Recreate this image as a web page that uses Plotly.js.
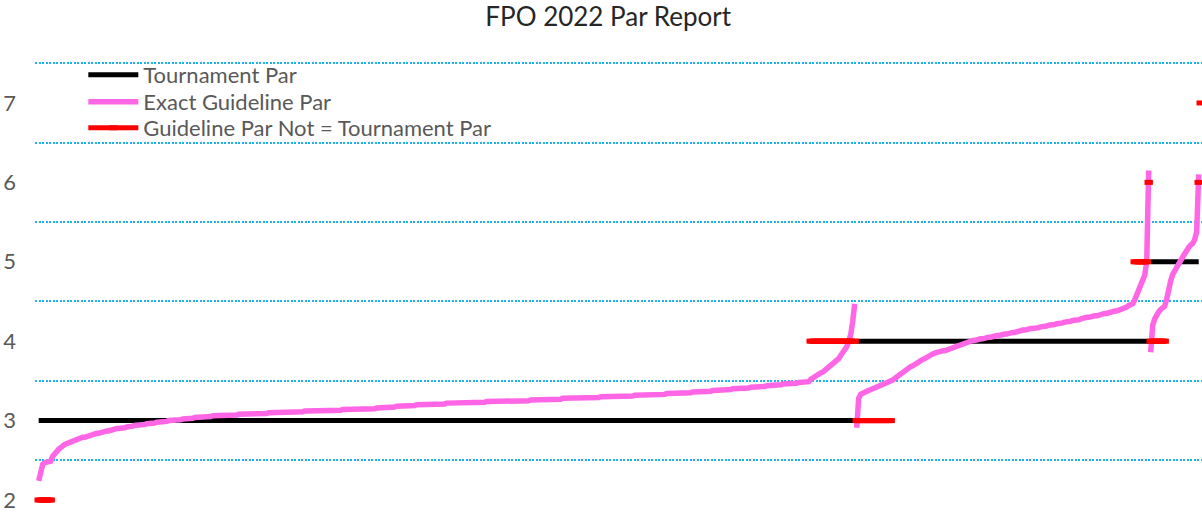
<!DOCTYPE html>
<html><head><meta charset="utf-8">
<script src="https://cdn.plot.ly/plotly-3.0.1.min.js"></script>
<style>html,body{margin:0;padding:0;background:#fff;}#chart{width:1202px;height:515px;}</style>
</head><body><div id="chart"></div>
<script>
const chartTitle = 'FPO 2022 Par Report';
const seriesNames = ['Tournament Par', 'Exact Guideline Par', 'Guideline Par Not = Tournament Par'];
const yTicks = [2, 3, 4, 5, 6, 7];
// tournament par of each group of holes (holes sorted by tournament par, then by exact guideline par)
const tournamentPars = [3, 4, 5, 6];
// exact guideline par of each hole, per tournament-par group
const guidelinePar3 = [
2.24,2.40,2.45,2.47,2.48,2.49,2.49,2.55,
2.59,2.62,2.64,2.66,2.69,
2.70,2.71,2.72,2.73,2.74,2.75,2.77,2.78,
2.78,2.79,2.79,2.80,2.81,2.81,2.82,2.83,2.84,
2.84,2.85,2.85,2.86,2.87,2.87,2.88,2.89,
2.89,2.90,2.90,2.90,2.91,2.91,2.92,2.92,2.93,
2.93,2.94,2.94,2.94,2.95,2.95,2.95,2.96,2.96,2.96,2.97,2.97,2.98,2.98,2.98,2.99,
2.99,2.99,3.00,3.00,3.00,3.00,3.01,3.01,3.01,
3.02,3.02,3.02,3.03,3.03,3.03,3.04,3.04,
3.04,3.04,3.05,3.05,3.05,3.05,3.05,3.06,3.06,3.06,3.06,3.06,3.06,3.07,3.07,3.07,3.07,
3.07,3.07,3.07,3.08,3.08,3.08,3.08,3.08,3.08,3.08,3.09,3.09,3.09,3.09,3.09,3.09,
3.09,3.09,3.10,3.10,3.10,3.10,3.10,3.10,3.10,3.10,3.11,3.11,3.11,3.11,3.11,3.11,3.11,
3.11,3.11,3.11,3.12,3.12,3.12,3.12,3.12,3.12,3.12,3.12,3.12,
3.12,3.12,3.13,3.13,3.13,3.13,3.13,3.13,3.13,3.13,3.14,3.14,3.14,3.14,3.14,3.14,3.14,3.14,3.14,3.15,3.15,3.15,3.15,3.15,3.15,
3.15,3.15,3.16,3.16,3.16,3.16,3.16,3.17,3.17,3.17,3.17,3.17,3.18,3.18,3.18,3.18,3.18,3.19,3.19,3.19,3.19,3.19,3.20,3.20,3.20,
3.20,3.20,3.20,3.20,3.20,3.21,3.21,3.21,3.21,3.21,3.21,3.21,3.22,3.22,3.22,3.22,3.22,3.22,3.22,3.22,3.23,3.23,3.23,3.23,3.23,
3.23,3.23,3.23,3.23,3.23,3.23,3.23,3.24,3.24,3.24,3.24,3.24,3.24,3.24,3.24,3.24,3.24,3.24,3.25,3.25,3.25,3.25,3.25,3.25,3.25,
3.25,3.25,3.25,3.25,3.26,3.26,3.26,3.26,3.26,3.26,3.26,3.26,3.27,3.27,3.27,3.27,3.27,3.27,3.27,3.27,3.28,3.28,3.28,3.28,3.28,
3.28,3.28,3.28,3.28,3.28,3.29,3.29,3.29,3.29,3.29,3.29,3.29,3.29,3.29,3.30,3.30,3.30,3.30,3.30,3.30,
3.30,3.30,3.30,3.31,3.31,3.31,3.31,3.31,3.31,3.31,3.31,3.32,3.32,3.32,3.32,3.32,3.32,3.32,3.32,3.33,3.33,3.33,3.33,3.33,3.33,3.33,3.33,3.34,3.34,3.34,3.34,3.34,3.34,
3.34,3.34,3.35,3.35,3.35,3.35,3.35,3.36,3.36,3.36,3.36,3.36,3.37,3.37,3.37,3.37,3.37,3.38,3.38,3.38,3.38,3.38,3.39,3.39,3.39,3.39,3.39,3.40,3.40,3.40,3.40,3.41,3.41,
3.41,3.41,3.41,3.42,3.42,3.42,3.42,3.43,3.43,3.43,3.43,3.44,3.44,3.44,3.44,3.45,3.45,3.45,3.45,3.46,3.46,3.46,3.46,3.47,3.47,
3.47,3.47,3.48,3.48,3.48,3.49,3.49,3.49,
3.52,3.54,3.55,3.57,3.58,3.60,3.61,3.63,3.64,
3.66,3.68,3.71,3.73,3.76,3.78,
3.82,3.85,3.89,3.93,
4.00,4.08,4.25,4.47
];
const guidelinePar4 = [
2.91,3.28,3.33,
3.35,3.36,3.37,3.38,3.39,3.40,3.42,3.43,
3.44,3.44,3.45,3.46,3.47,3.48,3.49,
3.51,3.53,3.55,3.57,3.60,3.62,
3.63,3.65,3.66,3.68,3.69,3.71,3.72,
3.74,3.75,3.77,3.78,3.80,3.81,3.83,3.84,
3.85,3.86,3.86,3.87,3.88,3.88,3.89,3.90,3.91,
3.92,3.93,3.94,3.95,3.96,3.97,3.97,3.98,3.99,4.00,4.01,
4.01,4.02,4.02,4.03,4.03,4.04,4.04,4.05,4.05,4.06,4.06,4.07,4.07,4.08,
4.08,4.09,4.09,4.10,4.10,4.11,4.11,4.12,4.12,4.13,4.14,
4.14,4.15,4.15,4.16,4.16,4.16,4.17,4.17,4.18,4.18,4.19,4.19,4.20,4.20,
4.21,4.21,4.22,4.22,4.23,4.23,4.24,4.24,4.25,4.25,4.26,4.26,4.27,4.27,4.28,4.29,
4.29,4.30,4.30,4.31,4.31,4.32,4.32,4.33,4.33,4.34,4.35,4.35,4.36,4.37,
4.37,4.38,4.38,4.39,4.39,
4.41,4.42,4.43,4.45,4.46,4.47,
4.52,4.58,4.64,4.70,4.76,4.83,5.00,6.15
];
const guidelinePar5 = [
3.86,4.20,4.28,4.34,4.37,4.40,4.42,4.44,4.53,4.68,4.76,4.84,4.89,4.93,4.97,
5.02,5.06,5.10,5.15,5.18,5.21,5.23,5.28,5.38,6.10
];
const guidelinePar6 = [6.55];

const groups = [guidelinePar3, guidelinePar4, guidelinePar5, guidelinePar6];
const blackTraces = [], pinkTraces = [], redTraces = [];
let start = 0;
groups.forEach((vals, g) => {
  const par = tournamentPars[g];
  const xs = vals.map((_, k) => start + k);
  blackTraces.push({type: 'scatter', mode: 'lines', x: xs, y: xs.map(() => par),
    line: {color: '#000000', width: 5}, name: seriesNames[0], legendgroup: 'tp', legend: 'legend',
    showlegend: g === 0, hoverinfo: 'skip'});
  pinkTraces.push({type: 'scatter', mode: 'lines', x: xs, y: vals,
    line: {color: '#FF66E6', width: 5.5}, name: seriesNames[1], legendgroup: 'eg', legend: 'legend2',
    showlegend: g === 0, hoverinfo: 'skip'});
  let run = null;
  vals.forEach((v, k) => {
    const r = Math.round(v);
    if (r !== par) {
      if (run && run.val === r && run.last === k - 1) { run.x.push(xs[k]); run.y.push(r); run.last = k; }
      else { run = {val: r, x: [xs[k]], y: [r], last: k}; redTraces.push(run); }
    } else { run = null; }
  });
  start += vals.length;
});
const totalHoles = start;
const redPlot = redTraces.map((r, n) => ({type: 'scatter', mode: 'lines+markers', x: r.x, y: r.y,
  line: {color: '#FF0000', width: 5},
  marker: {symbol: 'line-ew', size: 6, color: '#FF0000', line: {color: '#FF0000', width: 5}},
  cliponaxis: false, name: seriesNames[2], legendgroup: 'ne', legend: 'legend3',
  showlegend: n === 0, hoverinfo: 'skip'}));

const legendFont = {family: 'Lato', size: 22, color: '#595959'};
const legendBase = {x: 0.0414, xanchor: 'left', yanchor: 'middle', bgcolor: 'rgba(0,0,0,0)',
  font: legendFont, itemwidth: 50, tracegroupgap: 0};
const data = [...blackTraces, ...pinkTraces, ...redPlot];
const layout = {
  width: 1202, height: 515,
  margin: {l: 35, r: 0, t: 45, b: 0},
  paper_bgcolor: '#ffffff', plot_bgcolor: '#ffffff',
  title: {text: chartTitle, font: {family: 'Lato', size: 26, color: '#262626'},
    x: 0.506, xref: 'container', xanchor: 'center', y: 1 - 17 / 515, yref: 'container', yanchor: 'middle'},
  xaxis: {range: [-1.85, totalHoles - 0.35], visible: false, showgrid: false, zeroline: false, fixedrange: true},
  yaxis: {range: [1.811, 7.730], tickmode: 'array', tickvals: yTicks, showgrid: false, zeroline: false,
    showline: false, ticks: '', ticklabelstandoff: 18,
    tickfont: {family: 'Lato', size: 22, color: '#595959'},
    minor: {tickmode: 'linear', tick0: 0.5, dtick: 1, showgrid: true, gridcolor: '#1FB2EE', gridwidth: 2,
      griddash: '2px,1.5px', ticks: ''}},
  showlegend: true,
  legend: Object.assign({}, legendBase, {y: 1 - (75 - 45) / 470}),
  legend2: Object.assign({}, legendBase, {y: 1 - (102 - 45) / 470}),
  legend3: Object.assign({}, legendBase, {y: 1 - (128 - 45) / 470}),
  hovermode: false
};
Plotly.newPlot('chart', data, layout, {staticPlot: true, displayModeBar: false});
</script>
</body></html>
